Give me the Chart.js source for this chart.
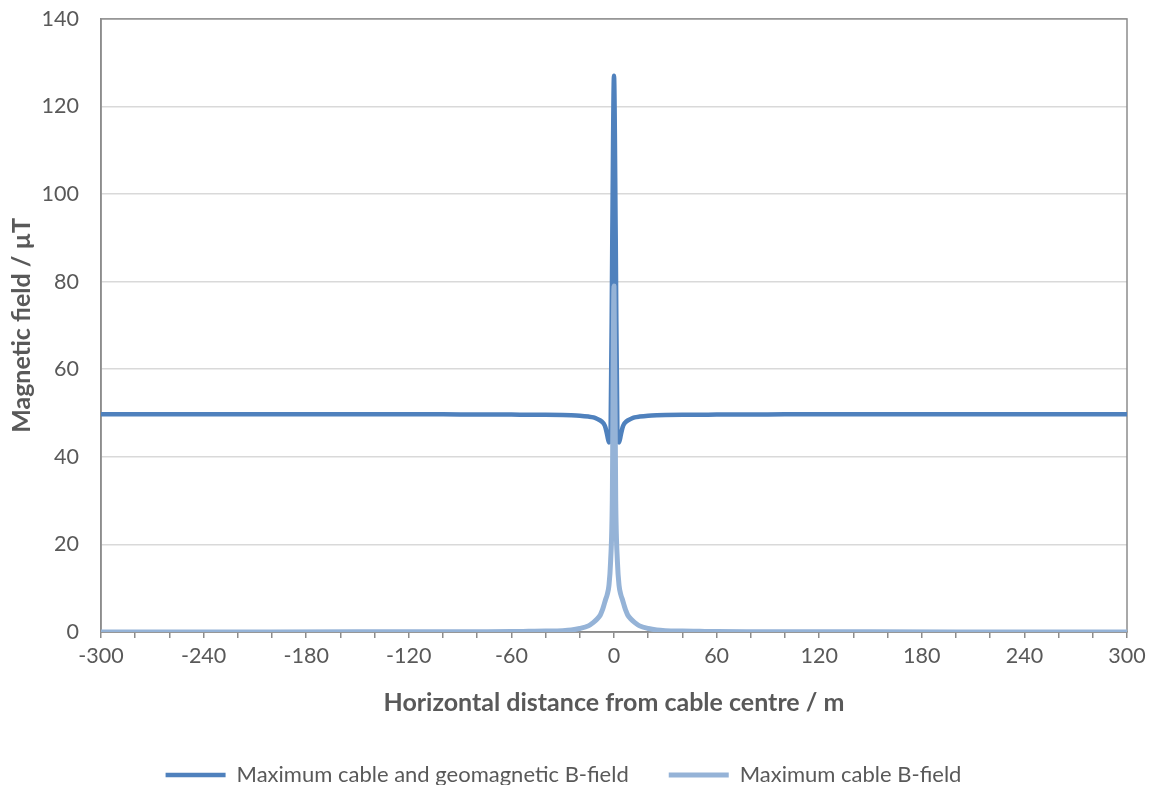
<!DOCTYPE html>
<html>
<head>
<meta charset="utf-8">
<script src="https://cdn.jsdelivr.net/npm/chart.js@4.4.1/dist/chart.umd.min.js"></script>
<style>
  html, body { margin: 0; padding: 0; background: #fff; overflow: hidden; }
  #wrap { width: 1153px; height: 785px; position: relative; }
</style>
</head>
<body>
<div id="wrap"><canvas id="myChart"></canvas></div>
<script>
// horizontal distance from cable centre (m)
const distances = [-300, -250, -200, -150, -100, -80, -60, -50, -40, -30, -25, -20, -15, -12, -10, -8, -7, -6, -5, -4, -3, -2, -1,
  0, 1, 2, 3, 4, 5, 6, 7, 8, 10, 12, 15, 20, 25, 30, 40, 50, 60, 80, 100, 150, 200, 250, 300];

// maximum cable and geomagnetic B-field (uT)
const combinedField = [49.75, 49.75, 49.7, 49.7, 49.7, 49.65, 49.65, 49.6, 49.6, 49.55, 49.5, 49.4, 49.2, 49.0, 48.7, 48.3, 48.0, 47.6, 46.7, 45.0, 43.3, 45.0, 90.0,
  127.0, 90.0, 45.0, 43.3, 45.0, 46.7, 47.6, 48.0, 48.3, 48.7, 49.0, 49.2, 49.4, 49.5, 49.55, 49.6, 49.6, 49.65, 49.65, 49.7, 49.7, 49.7, 49.75, 49.75];

// maximum cable B-field (uT)
const cableField = [0.01, 0.015, 0.02, 0.03, 0.05, 0.07, 0.1, 0.15, 0.2, 0.3, 0.45, 0.8, 1.4, 2.2, 2.9, 3.9, 4.8, 6.0, 7.3, 8.5, 10.5, 16.0, 30.0,
  79.0, 30.0, 16.0, 10.5, 8.5, 7.3, 6.0, 4.8, 3.9, 2.9, 2.2, 1.4, 0.8, 0.45, 0.3, 0.2, 0.15, 0.1, 0.07, 0.05, 0.03, 0.02, 0.015, 0.01];

const xTickLabels = [-300, -240, -180, -120, -60, 0, 60, 120, 180, 240, 300];
const yTickLabels = [0, 20, 40, 60, 80, 100, 120, 140];

const textColor = '#595959';
const axisColor = '#8c8c8c';
const fontFamily = 'Lato, "Open Sans", sans-serif';
const padBottom = -11;

const plotBorder = {
  id: 'plotBorder',
  beforeDatasetsDraw(chart) {
    const { ctx, chartArea: a } = chart;
    ctx.save();
    ctx.strokeStyle = axisColor;
    ctx.lineWidth = 1.5;
    ctx.strokeRect(a.left, a.top, a.right - a.left, a.bottom - a.top);
    ctx.restore();
  }
};

const data = {
  datasets: [{
    label: 'Maximum cable and geomagnetic B-field',
    data: distances.map((d, i) => ({ x: d, y: combinedField[i] })),
    borderColor: '#4f81bd',
    backgroundColor: '#4f81bd',
    borderWidth: 4.5,
    borderCapStyle: 'round',
    borderJoinStyle: 'round',
    pointRadius: 0,
    cubicInterpolationMode: 'monotone',
    pointStyle: 'line',
    order: 1
  }, {
    label: 'Maximum cable B-field',
    data: distances.map((d, i) => ({ x: d, y: cableField[i] })),
    borderColor: '#95b3d7',
    backgroundColor: '#95b3d7',
    borderWidth: 5,
    borderCapStyle: 'round',
    borderJoinStyle: 'round',
    pointRadius: 0,
    cubicInterpolationMode: 'monotone',
    pointStyle: 'line',
    order: 0
  }]
};

var ctx = document.getElementById('myChart');

var myChart = new Chart(ctx, {
  type: 'line',
  data: data,
  plugins: [plotBorder],
  options: {
    responsive: true,
    maintainAspectRatio: false,
    animation: false,
    devicePixelRatio: 1,
    layout: { padding: { top: 0, right: 26, left: 0, bottom: padBottom } },
    plugins: {
      tooltip: { enabled: false },
      legend: {
        position: 'bottom',
        labels: {
          usePointStyle: true,
          pointStyleWidth: 60,
          boxHeight: 8,
          padding: 40,
          color: textColor,
          font: { family: fontFamily, size: 22 },
          sort: (a, b) => a.datasetIndex - b.datasetIndex
        }
      }
    },
    scales: {
      x: {
        type: 'linear',
        min: -300,
        max: 300,
        afterFit(scale) {
          scale.height = scale.chart.height - padBottom - 632 - scale.chart.legend.height;
        },
        ticks: {
          stepSize: 20,
          autoSkip: false,
          maxRotation: 0,
          padding: 5,
          color: textColor,
          font: { family: fontFamily, size: 21.5 },
          callback: v => xTickLabels.includes(v) ? String(v) : ''
        },
        grid: { drawOnChartArea: false, drawTicks: true, tickLength: 6, color: axisColor, lineWidth: 1.5 },
        border: { display: true, color: axisColor, width: 1.5 },
        title: {
          display: true,
          text: 'Horizontal distance from cable centre / m',
          color: textColor,
          font: { family: fontFamily, size: 25, weight: 'bold' },
          padding: { top: 0, bottom: 6 }
        }
      },
      y: {
        min: 0,
        max: 140,
        afterFit(scale) { scale.width = 101; },
        ticks: {
          stepSize: 20,
          padding: 6,
          color: textColor,
          font: { family: fontFamily, size: 21.5 },
          callback: v => yTickLabels.includes(v) ? String(v) : ''
        },
        grid: { drawTicks: true, tickLength: 16, tickColor: 'rgba(0,0,0,0)', color: '#d9d9d9', lineWidth: 1.5 },
        border: { display: true, color: axisColor, width: 1.5 },
        title: {
          display: true,
          text: 'Magnetic field / µT',
          color: textColor,
          font: { family: fontFamily, size: 25, weight: 'bold' },
          padding: { top: 7, bottom: 0 }
        }
      }
    }
  }
});
</script>
</body>
</html>
